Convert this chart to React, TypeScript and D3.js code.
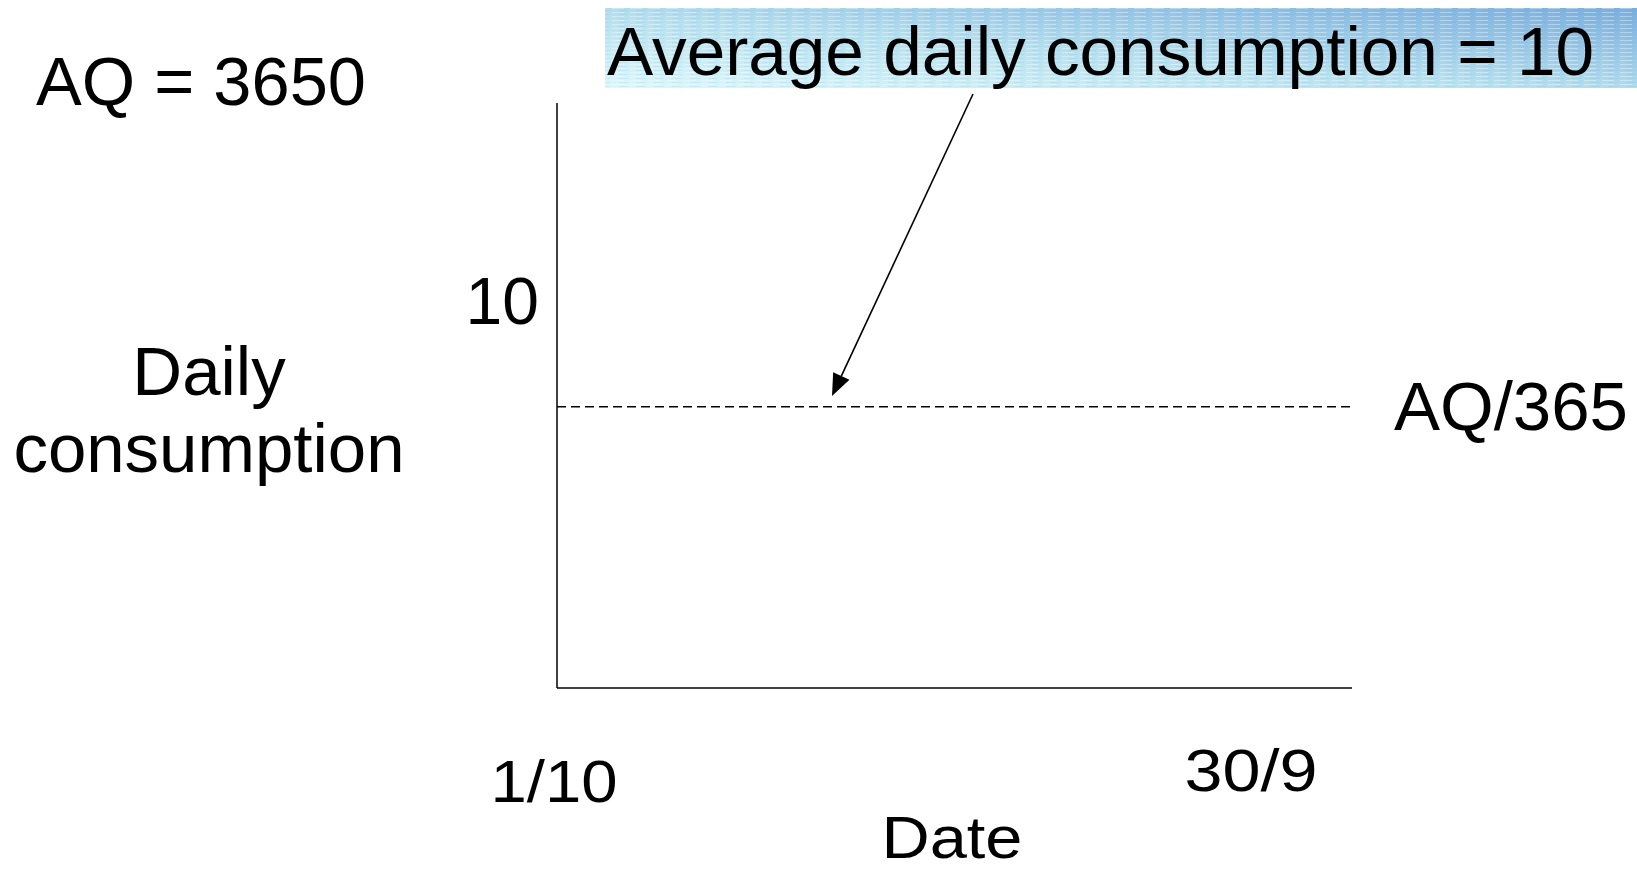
import React from "react";
import * as d3 from "d3";

// ---- data ----
const AQ = 3650;
const daysInYear = 365;
const averageDaily = AQ / daysInYear; // 10
const dateDomain = [new Date(2023, 9, 1), new Date(2024, 8, 30)];
const xTickLabels = ["1/10", "30/9"];
const yTickLabels = ["10"];
const consumptionSeries = [
  { date: new Date(2023, 9, 1), value: averageDaily },
  { date: new Date(2024, 8, 30), value: averageDaily },
];
const titleText = "Average daily consumption = 10";
const aqText = "AQ = 3650";
const lineLabel = "AQ/365";
const yLabelLines = ["Daily", "consumption"];
const xLabel = "Date";

const W = 1637;
const H = 871;
const FONT = "'Liberation Sans', Arial, Helvetica, sans-serif";

export default function App() {
  const x = d3.scaleTime().domain(dateDomain).range([557, 1352]);
  const y = d3.scaleLinear().domain([0, 20.8]).range([688, 103]);
  const line = d3
    .line<{ date: Date; value: number }>()
    .x((d) => x(d.date))
    .y((d) => y(d.value));

  const x0 = x(dateDomain[0]);
  const x1 = x(dateDomain[1]);
  const yTop = y(20.8);
  const yBase = y(0);
  const yAvg = y(averageDaily);

  // arrow
  const ax1 = 973, ay1 = 94;
  const ax2 = 832, ay2 = 396;
  const ang = Math.atan2(ay2 - ay1, ax2 - ax1);
  const headL = 22, headW = 9;
  const bx = ax2 - headL * Math.cos(ang);
  const by = ay2 - headL * Math.sin(ang);
  const px = -Math.sin(ang) * headW;
  const py = Math.cos(ang) * headW;

  return (
    <svg
      width={W}
      height={H}
      viewBox={`0 0 ${W} ${H}`}
      style={{ position: "absolute", left: 0, top: 0, background: "#fff" }}
      fontFamily={FONT}
    >
      <defs>
        <linearGradient id="boxGrad" x1="0" y1="1" x2="1" y2="0">
          <stop offset="0" stopColor="#dcf9fc" />
          <stop offset="0.45" stopColor="#b6e1ef" />
          <stop offset="1" stopColor="#7aaedd" />
        </linearGradient>
        <pattern id="streaks" width="18" height="4" patternUnits="userSpaceOnUse">
          <rect x="0" y="0" width="12" height="1" fill="#ffffff" opacity="0.35" />
          <rect x="6" y="2" width="10" height="1" fill="#5f95c8" opacity="0.12" />
        </pattern>
      </defs>

      {/* title box */}
      <rect x={605} y={8} width={W - 605} height={80} fill="url(#boxGrad)" />
      <rect x={605} y={8} width={W - 605} height={80} fill="url(#streaks)" />
      <text
        x={607}
        y={75}
        fontSize={68}
        textLength={987}
        lengthAdjust="spacingAndGlyphs"
        fill="#000"
      >
        {titleText}
      </text>

      <text x={36} y={105} fontSize={69} textLength={330} lengthAdjust="spacingAndGlyphs" fill="#000">
        {aqText}
      </text>

      {/* axes */}
      <line x1={x0} y1={yTop} x2={x0} y2={yBase} stroke="#000" strokeWidth={1.5} />
      <line x1={x0} y1={yBase} x2={x1} y2={yBase} stroke="#000" strokeWidth={1.5} />

      {/* y tick label */}
      <text x={539} y={yAvg - 83} fontSize={66} textAnchor="end" fill="#000">
        {yTickLabels[0]}
      </text>

      {/* y label */}
      {yLabelLines.map((t, i) => (
        <text key={t} x={209} y={395 + i * 77} fontSize={69} textAnchor="middle" fill="#000">
          {t}
        </text>
      ))}

      {/* average line */}
      <path
        d={line(consumptionSeries) || ""}
        fill="none"
        stroke="#000"
        strokeWidth={1.4}
        strokeDasharray="9 5"
      />
      <text x={1394} y={430} fontSize={69} fill="#000">
        {lineLabel}
      </text>

      {/* arrow */}
      <line x1={ax1} y1={ay1} x2={bx} y2={by} stroke="#000" strokeWidth={1.6} />
      <polygon
        points={`${ax2},${ay2} ${bx + px},${by + py} ${bx - px},${by - py}`}
        fill="#000"
      />

      {/* x tick labels */}
      <text
        x={x0 - 3}
        y={802}
        fontSize={60}
        textAnchor="middle"
        textLength={127}
        lengthAdjust="spacingAndGlyphs"
        fill="#000"
      >
        {xTickLabels[0]}
      </text>
      <text
        x={x1 - 101}
        y={791}
        fontSize={60}
        textAnchor="middle"
        textLength={133}
        lengthAdjust="spacingAndGlyphs"
        fill="#000"
      >
        {xTickLabels[1]}
      </text>

      {/* x label */}
      <text
        x={952}
        y={858}
        fontSize={60}
        textAnchor="middle"
        textLength={141}
        lengthAdjust="spacingAndGlyphs"
        fill="#000"
      >
        {xLabel}
      </text>
    </svg>
  );
}
